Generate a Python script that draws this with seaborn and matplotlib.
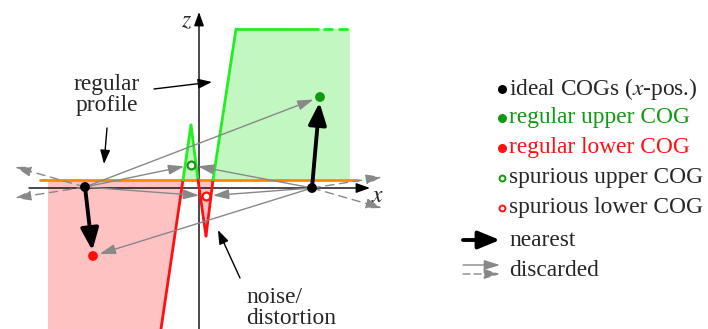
import matplotlib
matplotlib.use("Agg")
import matplotlib.pyplot as plt
import seaborn as sns
import numpy as np

# --- diagram geometry (units: one unit per output pixel, origin at axis crossing) ---
# measured profile: regular lower part, noise spikes, regular upper part
profile_x = [-38, -16, -8, -1, 7, 14, 37, 119]
profile_z = [-141, 8, 63, 8, -48, 8, 159, 159]
profile_dash_x = [124, 149]          # continuation of the upper plateau
baseline_z = 8                       # regular profile level
baseline_x = [-159, 159]
lower_fill_left = -151
upper_fill_right = 151

# centres of gravity
ideal_x = [-114, 113]
ideal_z = [1, 0]
upper_cog = (121, 91)
lower_cog = (-106, -68)
spurious_upper = (-8, 23)
spurious_lower = (7, -8)

# discarded search directions drawn as dashed arrows (start index, end point)
dashed_ends = [(0, (-184, 21)), (0, (-184, -10)), (1, (183, 11)), (1, (183, -20))]

legend_labels = ["ideal COGs (", "regular upper COG", "regular lower COG",
                 "spurious upper COG", "spurious lower COG", "nearest", "discarded"]

GREEN_LINE = "#22ee22"
GREEN_FILL = "#c2f7c2"
GREEN_DOT = "#109a10"
RED_LINE = "#ff1010"
RED_FILL = "#ffc2c2"
ORANGE = "#ff8800"
GRAY = "#888888"

sns.set_theme(style="white")
plt.rcParams["font.family"] = ["Liberation Serif", "DejaVu Serif"]
plt.rcParams["mathtext.fontset"] = "stix"

fig = plt.figure(figsize=(7.08, 3.29), dpi=100)
ax = fig.add_axes([0, 0, 1, 1])
ax.set_xlim(-199, 509)
ax.set_ylim(-141, 188)
ax.axis("off")

px = np.array(profile_x, dtype=float)
pz = np.array(profile_z, dtype=float)

# filled regions
ax.fill([lower_fill_left, px[1], px[0], lower_fill_left],
        [baseline_z, baseline_z, pz[0], pz[0]], color=RED_FILL, lw=0, zorder=1)
ax.fill([px[5], px[6], upper_fill_right, upper_fill_right],
        [pz[5], pz[6], pz[6], baseline_z], color=GREEN_FILL, lw=0, zorder=1)
ax.fill(px[1:4], pz[1:4], color=GREEN_FILL, lw=0, zorder=1)
ax.fill(px[3:6], pz[3:6], color=RED_FILL, lw=0, zorder=1)

# coordinate axes
AX_HEAD = "-|>,head_length=0.7,head_width=0.25"
ax.annotate("", xy=(171, 0), xytext=(-170, 0),
            arrowprops=dict(arrowstyle=AX_HEAD, color="black", lw=1,
                            shrinkA=0, shrinkB=0), zorder=2)
ax.annotate("", xy=(0, 176), xytext=(0, -141),
            arrowprops=dict(arrowstyle=AX_HEAD, color="black", lw=1,
                            shrinkA=0, shrinkB=0), zorder=2)
ax.text(-12, 166, "$z$", fontsize=17, ha="center", va="center")
ax.text(179, -9, "$x$", fontsize=17, ha="center", va="center")

# regular profile level
sns.lineplot(x=baseline_x, y=[baseline_z, baseline_z], color=ORANGE, lw=2,
             ax=ax, zorder=3)

# measured profile, coloured by side of the regular level
for i in range(len(px) - 1):
    zmid = (pz[i] + pz[i + 1]) / 2
    col = GREEN_LINE if zmid > baseline_z else RED_LINE
    sns.lineplot(x=px[i:i + 2], y=pz[i:i + 2], color=col, lw=2, ax=ax,
                 sort=False, estimator=None, zorder=3)
sns.lineplot(x=profile_dash_x, y=[pz[-1], pz[-1]], color=GREEN_LINE, lw=2,
             ax=ax, zorder=3)
ax.lines[-1].set_linestyle((0, (3.6, 1.8)))

# gray discarded candidate arrows
def gray_arrow(a, b, ls="-", shrink=5):
    ax.annotate("", xy=b, xytext=a,
                arrowprops=dict(arrowstyle="-|>,head_length=0.8,head_width=0.25",
                                color=GRAY, lw=1, ls=ls, shrinkA=0, shrinkB=shrink),
                zorder=4)

left = (ideal_x[0], ideal_z[0])
right = (ideal_x[1], ideal_z[1])
for tgt in (upper_cog, spurious_upper, spurious_lower):
    gray_arrow(left, tgt)
for tgt in (lower_cog, spurious_upper, spurious_lower):
    gray_arrow(right, tgt)
for idx, end in dashed_ends:
    gray_arrow((ideal_x[idx], ideal_z[idx]), end, ls=(0, (6, 4)), shrink=0)

# nearest (accepted) assignments
THICK_HEAD = "-|>,head_length=1.1,head_width=0.45"
for a, b in ((left, lower_cog), (right, upper_cog)):
    ax.annotate("", xy=b, xytext=a,
                arrowprops=dict(arrowstyle=THICK_HEAD, color="black", lw=2.8,
                                shrinkA=0, shrinkB=4),
                zorder=5)

# centres of gravity
sns.scatterplot(x=ideal_x, y=ideal_z, color="black", s=50, ax=ax, zorder=6,
                edgecolor="none")
sns.scatterplot(x=[upper_cog[0]], y=[upper_cog[1]], color=GREEN_DOT, s=50,
                ax=ax, zorder=6, edgecolor="none")
sns.scatterplot(x=[lower_cog[0]], y=[lower_cog[1]], color=RED_LINE, s=50,
                ax=ax, zorder=6, edgecolor="none")
ax.scatter([spurious_upper[0]], [spurious_upper[1]], s=32, facecolor="white",
           edgecolor=GREEN_DOT, lw=1.6, zorder=6)
ax.scatter([spurious_lower[0]], [spurious_lower[1]], s=32, facecolor="white",
           edgecolor=RED_LINE, lw=1.6, zorder=6)

# annotations
FS = 16.8
ax.text(-92, 93, "regular\nprofile", fontsize=FS, ha="center", va="center",
        linespacing=1.05)
ax.annotate("", xy=(13, 106), xytext=(-45, 99),
            arrowprops=dict(arrowstyle=AX_HEAD, color="black", lw=1,
                            shrinkA=0, shrinkB=0))
ax.annotate("", xy=(-95, 24), xytext=(-92, 60),
            arrowprops=dict(arrowstyle=AX_HEAD, color="black", lw=1,
                            shrinkA=0, shrinkB=0))
ax.text(47, -120, "noise/\ndistortion", fontsize=FS, ha="left", va="center",
        linespacing=1.05)
ax.annotate("", xy=(19, -42), xytext=(41, -90),
            arrowprops=dict(arrowstyle=AX_HEAD, color="black", lw=1,
                            shrinkA=0, shrinkB=0))

# legend drawn beside the diagram
LX_MARK, LX_TEXT = 303, 310
rows = [99, 70, 40, 10, -20, -52, -82]
ax.scatter([LX_MARK], [rows[0]], s=30, color="black", zorder=6)
ax.scatter([LX_MARK], [rows[1]], s=30, color=GREEN_DOT, zorder=6)
ax.scatter([LX_MARK], [rows[2]], s=30, color=RED_LINE, zorder=6)
ax.scatter([LX_MARK], [rows[3]], s=18, facecolor="white", edgecolor=GREEN_DOT,
           lw=1.4, zorder=6)
ax.scatter([LX_MARK], [rows[4]], s=18, facecolor="white", edgecolor=RED_LINE,
           lw=1.4, zorder=6)
ax.text(LX_TEXT, rows[0], legend_labels[0] + "$x$-pos.)", fontsize=FS,
        va="center", ha="left")
ax.text(LX_TEXT, rows[1], legend_labels[1], fontsize=FS, va="center",
        color=GREEN_DOT)
ax.text(LX_TEXT, rows[2], legend_labels[2], fontsize=FS, va="center",
        color=RED_LINE)
ax.text(LX_TEXT, rows[3], legend_labels[3], fontsize=FS, va="center")
ax.text(LX_TEXT, rows[4], legend_labels[4], fontsize=FS, va="center")
ax.annotate("", xy=(301, rows[5]), xytext=(264, rows[5]),
            arrowprops=dict(arrowstyle=THICK_HEAD, color="black", lw=2.8,
                            shrinkA=0, shrinkB=0))
ax.text(LX_TEXT, rows[5], legend_labels[5], fontsize=FS, va="center")
ax.annotate("", xy=(301, rows[6] + 5), xytext=(264, rows[6] + 5),
            arrowprops=dict(arrowstyle="-|>,head_length=0.8,head_width=0.25",
                            color=GRAY, lw=1, shrinkA=0, shrinkB=0))
ax.annotate("", xy=(301, rows[6] - 4), xytext=(264, rows[6] - 4),
            arrowprops=dict(arrowstyle="-|>,head_length=0.8,head_width=0.25",
                            color=GRAY, lw=1, ls=(0, (5, 3)), shrinkA=0, shrinkB=0))
ax.text(LX_TEXT, rows[6], legend_labels[6], fontsize=FS, va="center")

if ax.get_legend() is not None:
    ax.get_legend().remove()

fig.savefig("out.png", dpi=100)
